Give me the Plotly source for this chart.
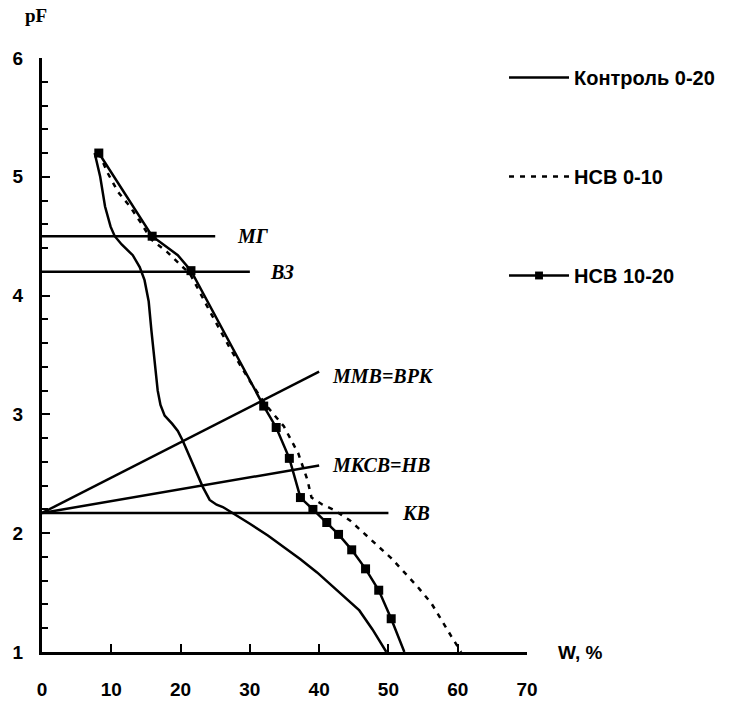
import plotly.graph_objects as go

# ---- data (W, % ; pF) ----
control_w = [7.6, 8.4, 9.1, 9.9, 10.5, 11.5, 13.1, 14.1, 14.8, 15.4, 15.8, 16.3, 16.7, 17.1, 17.7,
             18.8, 19.6, 20.3, 22.0, 23.2, 24.2, 25.2, 26.1, 27.5, 30.0, 32.6, 35.0, 37.3, 39.7,
             41.8, 44.0, 45.8, 47.7, 49.7]
control_pf = [5.2, 5.0, 4.75, 4.58, 4.5, 4.43, 4.34, 4.24, 4.13, 3.95, 3.7, 3.43, 3.2, 3.08, 2.99,
              2.92, 2.86, 2.78, 2.56, 2.39, 2.28, 2.24, 2.22, 2.17, 2.08, 1.98, 1.88, 1.78, 1.67,
              1.56, 1.45, 1.35, 1.19, 1.0]

nsv010_w = [8.2, 9.5, 11.0, 12.7, 14.3, 15.8, 18.0, 19.8, 21.4, 24.2, 27.1, 30.0, 32.3, 34.9,
            37.0, 38.3, 38.9, 40.5, 42.0, 44.4, 46.3, 48.4, 50.4, 52.3, 54.2, 56.2, 57.6, 59.1, 60.5]
nsv010_pf = [5.2, 5.03, 4.87, 4.75, 4.61, 4.47, 4.37, 4.27, 4.18, 3.87, 3.56, 3.28, 3.08, 2.9,
             2.67, 2.45, 2.3, 2.24, 2.2, 2.11, 2.01, 1.9, 1.79, 1.67, 1.55, 1.41, 1.27, 1.13, 1.0]

nsv1020_w = [8.2, 15.9, 19.6, 21.5, 32.0, 33.8, 35.7, 37.3, 39.1, 41.1, 42.8, 44.7, 46.7, 48.6, 50.4, 52.3]
nsv1020_pf = [5.2, 4.5, 4.34, 4.21, 3.07, 2.89, 2.63, 2.30, 2.20, 2.09, 1.99, 1.86, 1.70, 1.52, 1.28, 1.0]
nsv1020_marked = [1, 1, 0, 1, 1, 1, 1, 1, 1, 1, 1, 1, 1, 1, 1, 0]

# reference hydrological constants: name, (x0, pf0), (x1, pf1)
ref_names = ["МГ", "ВЗ", "ММВ=ВРК", "МКСВ=НВ", "КВ"]
ref_start = [(0, 4.5), (0, 4.2), (0, 2.17), (0, 2.17), (0, 2.17)]
ref_end = [(25, 4.5), (30, 4.2), (40, 3.36), (40, 2.57), (50, 2.17)]
ref_label_pos = [(27.8, 4.5), (32.6, 4.2), (41.5, 3.32), (41.5, 2.57), (51.6, 2.17)]

x_ticks = [0, 10, 20, 30, 40, 50, 60, 70]
y_ticks = [1, 2, 3, 4, 5, 6]

LW = 2.5
SANS = "Liberation Sans, Arial, sans-serif"
SERIF = "Liberation Serif, Times New Roman, serif"
fig = go.Figure()

for (x0, y0), (x1, y1) in zip(ref_start, ref_end):
    fig.add_trace(go.Scatter(x=[x0, x1], y=[y0, y1], mode="lines",
                             line=dict(color="black", width=LW),
                             showlegend=False, hoverinfo="skip", cliponaxis=False))

fig.add_trace(go.Scatter(x=control_w, y=control_pf, mode="lines", name="Контроль 0-20",
                         line=dict(color="black", width=LW), legendgroup="a", cliponaxis=False))
fig.add_trace(go.Scatter(x=nsv010_w, y=nsv010_pf, mode="lines", name="НСВ 0-10",
                         line=dict(color="black", width=LW, dash="5px,6px"),
                         legendgroup="b", cliponaxis=False))
fig.add_trace(go.Scatter(x=nsv1020_w, y=nsv1020_pf, mode="lines+markers", name="НСВ 10-20",
                         line=dict(color="black", width=LW),
                         marker=dict(symbol="square", color="black", opacity=1,
                                     line=dict(width=0),
                                     size=[9 * m for m in nsv1020_marked]),
                         legendgroup="c", cliponaxis=False))

for name, (lx, ly) in zip(ref_names, ref_label_pos):
    fig.add_annotation(x=lx, y=ly, text="<b><i>" + name + "</i></b>", showarrow=False,
                       xanchor="left", yanchor="middle",
                       font=dict(family=SERIF, size=20, color="black"))

fig.add_annotation(xref="paper", yref="paper", x=-0.012, y=1.05, text="<b>pF</b>",
                   showarrow=False, xanchor="center", yanchor="bottom",
                   font=dict(family=SERIF, size=19, color="black", weight="bold"))
fig.add_annotation(xref="paper", yref="y", x=1.06, y=1.0, text="W, %",
                   showarrow=False, xanchor="left", yanchor="middle",
                   font=dict(family=SANS, size=19, color="black", weight="bold"))

tickfont = dict(family=SANS, size=19, color="black", weight="bold")
fig.update_layout(
    width=733, height=702,
    margin=dict(l=42, r=206, t=58, b=50, autoexpand=False),
    plot_bgcolor="white", paper_bgcolor="white",
    font=dict(family=SANS, size=18, color="black"),
    legend=dict(xref="container", yref="container", x=0.6876, y=0.9174,
                xanchor="left", yanchor="top",
                itemwidth=60, tracegroupgap=70,
                font=dict(family=SANS, size=20, color="black", weight="bold"),
                bgcolor="rgba(0,0,0,0)"),
    xaxis=dict(range=[0, 70], tickvals=x_ticks, tickfont=tickfont, automargin=False,
               ticks="inside", ticklen=8, tickwidth=2, tickcolor="black",
               showline=True, linewidth=3, linecolor="black", showgrid=False, zeroline=False,
               ticklabelstandoff=18),
    yaxis=dict(range=[1, 6], tickvals=y_ticks, tickfont=tickfont, automargin=False,
               ticks="inside", ticklen=8, tickwidth=2, tickcolor="black",
               minor=dict(dtick=0.2, ticks="inside", ticklen=6, tickwidth=2, tickcolor="black"),
               showline=True, linewidth=3, linecolor="black", showgrid=False, zeroline=False,
               ticklabelstandoff=12),
)

fig.write_html("out.html")
